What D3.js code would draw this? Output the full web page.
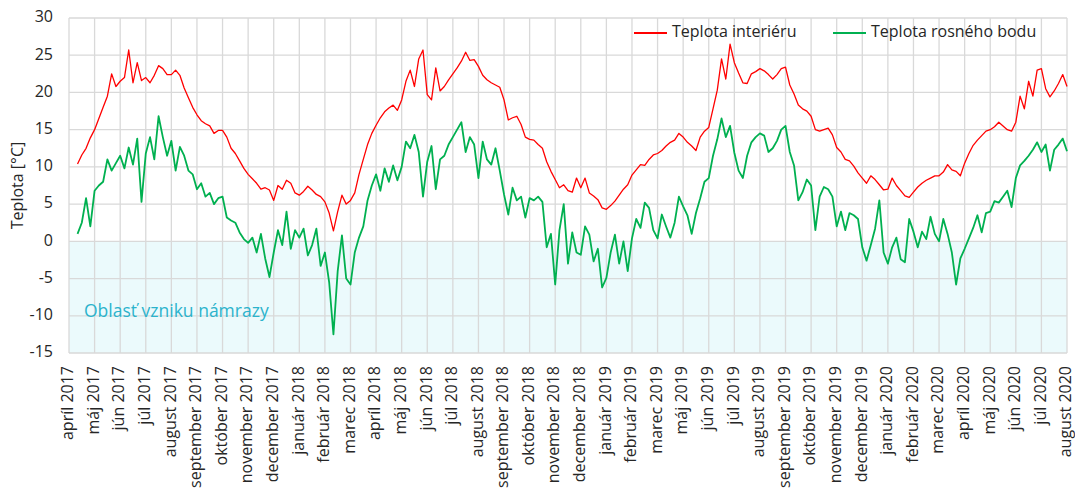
<!DOCTYPE html>
<html>
<head>
<meta charset="utf-8">
<script src="https://cdn.jsdelivr.net/npm/d3@7"></script>
<style>
  body { margin: 0; background: #fff; }
  svg { display: block; font-family: "Open Sans", sans-serif; }
</style>
</head>
<body>
<div id="chart"></div>
<script>
// x axis: Excel date axis, one major tick every 31 days (that's why "apríl 2019" is missing)
var axisStart = Date.UTC(2017, 3, 17);
var tickStepDays = 31;
var tickCount = 40;
var samplesPerTick = 6;          // values, 6 per tick interval
var monthNames = ["január", "február", "marec", "apríl", "máj", "jún", "júl",
                  "august", "september", "október", "november", "december"];
var yTicks = [-15, -10, -5, 0, 5, 10, 15, 20, 25, 30];

var seriesNames = ["Teplota interiéru", "Teplota rosného bodu"];

// Teplota interiéru [°C]
var interiorTemp = [
  null, null, 10.4, 11.6, 12.5, 13.9,
  15.0, 16.5, 18.0, 19.5, 22.5, 20.8,
  21.5, 22.0, 25.7, 21.3, 24.0, 21.6,
  22.0, 21.3, 22.3, 23.6, 23.2, 22.4,
  22.4, 23.0, 22.3, 20.6, 19.3, 18.0,
  17.0, 16.2, 15.8, 15.5, 14.5, 14.9,
  14.9, 14.0, 12.5, 11.8, 10.8, 9.8,
  9.0, 8.4, 7.8, 7.0, 7.2, 6.9,
  5.5, 7.5, 7.0, 8.2, 7.8, 6.5,
  6.2, 6.7, 7.4, 6.9, 6.3, 6.0,
  5.3, 3.8, 1.4, 4.0, 6.2, 5.0,
  5.5, 6.5, 9.0, 11.0, 13.0, 14.5,
  15.6, 16.6, 17.4, 17.9, 18.3, 17.6,
  19.0, 21.5, 23.0, 20.8, 24.5, 25.7,
  19.7, 19.0, 23.3, 20.2, 20.8, 21.7,
  22.5, 23.3, 24.2, 25.4, 24.3, 24.4,
  23.5, 22.3, 21.7, 21.3, 21.0, 20.7,
  19.0, 16.3, 16.6, 16.8, 15.7, 14.0,
  13.7, 13.6, 13.0, 12.5, 10.7, 9.4,
  8.3, 7.2, 7.6, 6.8, 6.6, 8.5,
  7.2, 8.5, 6.5, 6.1, 5.6, 4.5,
  4.3, 4.8, 5.4, 6.2, 7.0, 7.6,
  8.9, 9.6, 10.3, 10.2, 11.0, 11.6,
  11.8, 12.2, 12.8, 13.3, 13.6, 14.5,
  14.0, 13.3, 12.8, 12.2, 14.0, 14.8,
  15.3, 17.8, 20.3, 24.5, 21.8, 26.5,
  24.0, 22.6, 21.3, 21.2, 22.5, 22.8,
  23.2, 22.9, 22.4, 21.8, 22.4, 23.2,
  23.4, 21.0, 19.8, 18.3, 17.8, 17.5,
  16.8, 15.0, 14.8, 15.0, 15.2, 14.3,
  12.6, 12.0, 11.0, 10.8, 10.1, 9.2,
  8.5, 7.8, 8.8, 8.3, 7.6, 6.9,
  7.0, 8.5, 7.5, 6.8, 6.1, 5.9,
  6.6, 7.3, 7.8, 8.2, 8.5, 8.8,
  8.8, 9.3, 10.3, 9.6, 9.4, 8.8,
  10.5, 11.8, 12.9, 13.6, 14.2, 14.8,
  15.0, 15.4, 16.0, 15.5, 15.0, 14.8,
  16.0, 19.5, 17.8, 21.5, 19.5, 23.0,
  23.2, 20.5, 19.4, 20.2, 21.2, 22.4,
  20.8
];

// Teplota rosného bodu [°C]
var dewPoint = [
  null, null, 1.0, 2.5, 5.8, 2.0,
  6.8, 7.5, 8.0, 11.0, 9.5, 10.5,
  11.5, 9.8, 12.6, 10.3, 13.8, 5.3,
  11.8, 14.0, 11.0, 16.8, 14.0, 11.5,
  13.5, 9.5, 12.7, 11.5, 9.5, 9.0,
  7.0, 7.8, 6.0, 6.5, 5.0, 5.8,
  6.0, 3.2, 2.8, 2.5, 1.2, 0.3,
  -0.2, 0.5, -1.5, 1.0, -2.3, -4.8,
  -1.5, 1.5, -0.5, 4.0, -1.0, 1.5,
  0.5, 1.7, -1.9, -0.5, 1.7, -3.3,
  -1.5, -5.5, -12.5, -4.0, 0.8, -5.0,
  -5.8, -1.5, 0.5, 2.0, 5.5, 7.5,
  9.0, 6.8, 9.8, 8.0, 10.2, 8.2,
  10.0, 13.4, 12.5, 14.3, 12.0, 6.0,
  10.7, 12.8, 7.0, 11.0, 11.5, 13.0,
  14.0, 15.0, 16.0, 12.0, 14.0, 13.0,
  8.5, 13.4, 11.0, 10.3, 12.5, 9.5,
  6.3, 3.6, 7.2, 5.5, 6.0, 3.2,
  5.8, 5.5, 6.0, 5.3, -0.8, 1.0,
  -5.8, 1.5, 5.0, -3.0, 1.2, -1.5,
  -1.8, 2.0, 0.9, -2.7, -1.0, -6.2,
  -4.9, -1.5, 0.9, -3.0, 0.0, -4.0,
  0.4, 3.0, 1.8, 5.2, 4.5, 1.5,
  0.4, 3.6, 2.0, 0.5, 2.5, 6.0,
  4.7, 3.5, 1.0, 3.8, 5.8, 8.0,
  8.5, 11.5, 13.7, 16.5, 14.0, 15.5,
  11.9, 9.5, 8.5, 11.5, 13.3, 14.0,
  14.5, 14.2, 12.0, 12.5, 13.5, 15.0,
  15.5, 12.0, 10.2, 5.5, 6.6, 8.3,
  7.5, 1.5, 6.0, 7.3, 7.0, 6.0,
  2.0, 4.0, 1.5, 3.8, 3.5, 3.0,
  -0.8, -2.6, -0.5, 1.7, 5.5, -1.5,
  -3.0, -0.8, 0.5, -2.4, -2.8, 3.0,
  1.3, -0.8, 1.3, 0.3, 3.3, 1.0,
  0.0, 3.0, 1.0, -1.5, -5.8, -2.3,
  -1.0, 0.4, 1.8, 3.5, 1.2, 3.8,
  4.0, 5.4, 5.2, 6.0, 6.8, 4.6,
  8.5, 10.2, 10.8, 11.5, 12.3, 13.3,
  12.0, 13.0, 9.5, 12.3, 13.0, 13.8,
  12.1
];

var frostLabel = "Oblasť vzniku námrazy";
var yTitle = "Teplota [°C]";

const width = 1075;
const height = 488;
const margin = {top: 18, right: 8, bottom: 135, left: 69};
const dayMs = 24 * 3600 * 1000;

var svg = d3.select("#chart").append("svg")
    .attr("width", width)
    .attr("height", height);

var tickDates = d3.range(tickCount).map(function(k){
    return new Date(axisStart + k * tickStepDays * dayMs);
});

var x = d3.scaleUtc()
    .domain([tickDates[0], tickDates[tickCount - 1]])
    .range([margin.left, width - margin.right]);
var y = d3.scaleLinear()
    .domain([-15, 30])
    .range([height - margin.bottom, margin.top]);

function sampleDate(i){
    return new Date(axisStart + i * tickStepDays / samplesPerTick * dayMs);
}

// frost area below 0 °C
svg.append("rect")
    .attr("x", x.range()[0])
    .attr("y", y(0))
    .attr("width", x.range()[1] - x.range()[0])
    .attr("height", y(-15) - y(0))
    .attr("fill", "#ebfafc");

// gridlines
svg.append("g").selectAll("line")
    .data(yTicks)
    .enter().append("line")
    .attr("x1", x.range()[0])
    .attr("x2", x.range()[1])
    .attr("y1", d => y(d))
    .attr("y2", d => y(d))
    .attr("stroke", "#d9d9d9")
    .attr("stroke-width", 1.3);

svg.append("g").selectAll("line")
    .data(tickDates)
    .enter().append("line")
    .attr("x1", d => x(d))
    .attr("x2", d => x(d))
    .attr("y1", y(30))
    .attr("y2", y(-15))
    .attr("stroke", "#d9d9d9")
    .attr("stroke-width", 1.3);

svg.append("text")
    .attr("x", 84)
    .attr("y", y(-9.5))
    .attr("dominant-baseline", "middle")
    .attr("font-size", 17.5)
    .attr("fill", "#2bb3cc")
    .text(frostLabel);

// series
function drawSeries(values, color, w){
    var line = d3.line()
        .defined(d => d != null)
        .x((d, i) => x(sampleDate(i)))
        .y(d => y(d));
    svg.append("path")
        .datum(values)
        .attr("d", line)
        .attr("fill", "none")
        .attr("stroke", color)
        .attr("stroke-width", w)
        .attr("stroke-linejoin", "round");
}
drawSeries(interiorTemp, "#ff0000", 1.3);
drawSeries(dewPoint, "#00b050", 1.8);

// y axis labels
svg.append("g").selectAll("text")
    .data(yTicks)
    .enter().append("text")
    .attr("x", 53)
    .attr("y", d => y(d))
    .attr("text-anchor", "end")
    .attr("dominant-baseline", "middle")
    .attr("font-size", 16)
    .attr("fill", "#262626")
    .text(d => d);

svg.append("text")
    .attr("transform", "translate(19," + ((y(30) + y(-15)) / 2) + ") rotate(-90)")
    .attr("text-anchor", "middle")
    .attr("dominant-baseline", "middle")
    .attr("font-size", 16)
    .attr("fill", "#262626")
    .text(yTitle);

// x axis labels
svg.append("g").selectAll("text")
    .data(tickDates)
    .enter().append("text")
    .attr("transform", d => "translate(" + x(d) + "," + (y(-15) + 13) + ") rotate(-90)")
    .attr("text-anchor", "end")
    .attr("dominant-baseline", "middle")
    .attr("font-size", 16)
    .attr("fill", "#262626")
    .text(d => monthNames[d.getUTCMonth()] + " " + d.getUTCFullYear());

// legend
var legendItems = [
    {name: seriesNames[0], color: "#ff0000", x: 634},
    {name: seriesNames[1], color: "#00b050", x: 833}
];
var legend = svg.append("g").selectAll("g")
    .data(legendItems)
    .enter().append("g")
    .attr("transform", d => "translate(" + d.x + ",33)");
legend.append("line")
    .attr("x1", 0)
    .attr("x2", 33)
    .attr("stroke", d => d.color)
    .attr("stroke-width", 2);
legend.append("text")
    .attr("x", 38)
    .attr("dominant-baseline", "middle")
    .attr("font-size", 16)
    .attr("fill", "#262626")
    .text(d => d.name);
</script>
</body>
</html>
